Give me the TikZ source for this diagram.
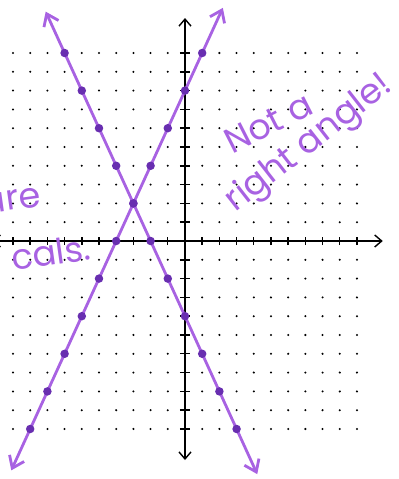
\documentclass[tikz,border=0pt]{standalone}
\usepackage{fontspec}
\newfontfamily\handfont{Poppins}
\usetikzlibrary{arrows.meta}
\definecolor{pen}{RGB}{168,98,226}
\definecolor{pendark}{RGB}{104,46,176}

\begin{document}
\begin{tikzpicture}[
  x=0.344cm, y=0.376cm,
  axis/.style={draw=black, line width=0.8pt,
               {Straight Barb[length=1.4mm, width=2.4mm]}-{Straight Barb[length=1.4mm, width=2.4mm]}},
  tick/.style={draw=black, line width=0.8pt},
  pen/.style={draw=pen, line width=1.6pt, line cap=round,
              {Straight Barb[length=2.2mm, width=3.2mm]}-{Straight Barb[length=2.2mm, width=3.2mm]}},
  pt/.style={circle, fill=pendark, inner sep=0pt, minimum size=1.7mm},
  hand/.style={text=pen, inner sep=0pt, font=\handfont\fontsize{20}{24}\selectfont}]

  \useasboundingbox (-10.756,-12.66) rectangle (12.442,12.819);
  \clip (-10.756,-12.66) rectangle (12.442,12.819);

  % grid of dots
  \foreach \x in {-10,...,10} {
    \foreach \y in {-10,...,10} {
      \ifnum\x=0 \else \ifnum\y=0 \else
        \fill (\x,\y) circle[radius=0.65pt];
      \fi\fi
    }
  }

  % axes
  \coordinate (xl) at (-11.2,0);
  \coordinate (xr) at (11.5,0);
  \coordinate (yb) at (0,-11.65);
  \coordinate (yt) at (0,11.86);
  \draw[axis] (xl) -- (xr);
  \draw[axis] (yb) -- (yt);
  \foreach \i in {-10,...,10} {
    \ifnum\i=0 \else
      \draw[tick] (\i,-0.22) -- (\i,0.22);
      \draw[tick] (-0.3,\i) -- (0.3,\i);
    \fi
  }

  % y = 2x + 8
  \coordinate (a0) at (-10.1,-12.2);
  \coordinate (a1) at (2.2,12.4);
  \draw[pen] (a0) -- (a1);
  \foreach \x [count=\k] in {-9,...,1}
    \node[pt] (p\k) at (\x,{2*\x+8}) {};

  % y = -2x - 4
  \coordinate (b0) at (-8.1,12.2);
  \coordinate (b1) at (4.2,-12.4);
  \draw[pen] (b0) -- (b1);
  \foreach \x [count=\k] in {-7,...,3}
    \node[pt] (q\k) at (\x,{-2*\x-4}) {};

  % notes
  \node[hand, rotate=27] (nota) at (4.85,6.3) {Not a};
  \node[hand, rotate=38] (right) at (7.25,5.15) {right angle!};
  \node[hand, rotate=8, anchor=base east] (are) at (-8.3,1.86) {are};
  \node[hand, rotate=8, anchor=base east] (cals) at (-5.4,-1.0) {cals.};
\end{tikzpicture}
\end{document}
